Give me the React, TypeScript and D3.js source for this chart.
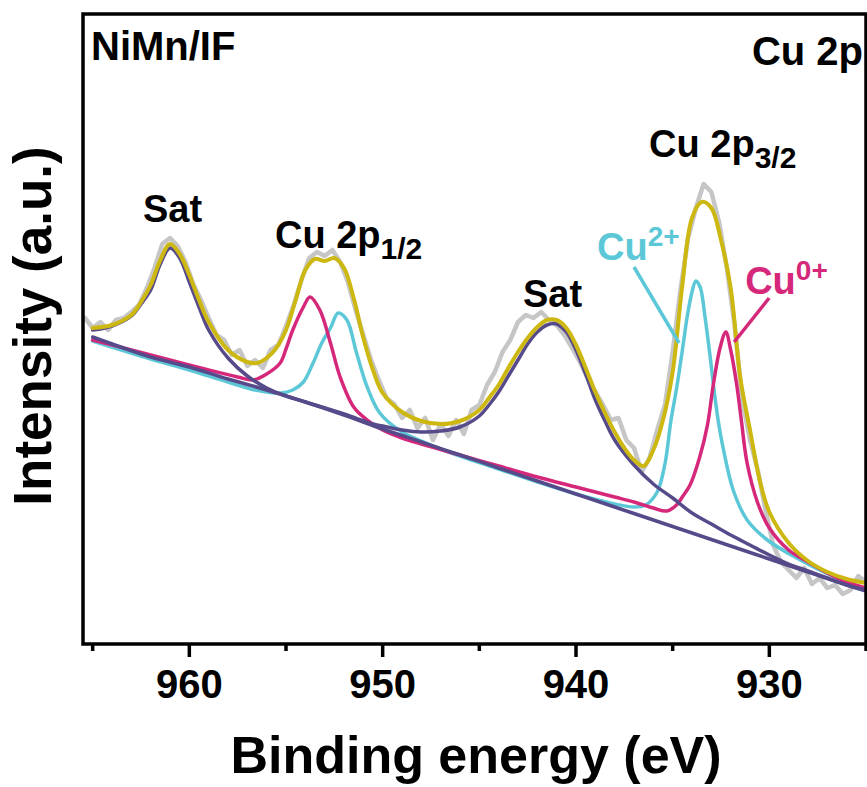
import React from 'react';
import * as d3 from 'd3';

const width = 867;
const height = 787;
const margin = { top: 14, right: 1, bottom: 143, left: 83 };
const font = "'Liberation Sans', Arial, Helvetica, sans-serif";

// binding energy (eV) vs intensity (a.u.)
const rawData: [number, number][] = [
  [965.4, 326], [965.0, 316], [964.6, 322], [964.2, 314], [963.8, 324], [963.4, 326], [963.0, 332],
  [962.6, 339], [962.2, 356], [961.8, 376], [961.4, 400], [961.0, 406], [960.6, 398], [960.2, 382],
  [959.8, 360], [959.4, 344], [959.0, 326], [958.6, 309], [958.2, 304], [957.8, 289], [957.4, 294],
  [957.0, 278], [956.6, 284], [956.2, 276], [955.8, 294], [955.4, 299], [955.0, 318], [954.6, 339],
  [954.2, 364], [953.8, 386], [953.4, 392], [953.0, 388], [952.6, 394], [952.2, 382], [951.8, 362],
  [951.4, 334], [951.0, 309], [950.6, 284], [950.2, 264], [949.8, 246], [949.4, 240], [949.0, 226],
  [948.6, 234], [948.2, 216], [947.8, 226], [947.4, 204], [947.0, 220], [946.6, 208], [946.2, 224],
  [945.8, 210], [945.4, 234], [945.0, 239], [944.6, 259], [944.2, 272], [943.8, 292], [943.4, 304],
  [943.0, 322], [942.6, 329], [942.2, 326], [941.8, 332], [941.4, 324], [941.0, 319], [940.6, 309],
  [940.2, 296], [939.8, 282], [939.4, 266], [939.0, 252], [938.6, 239], [938.2, 224], [937.8, 226],
  [937.4, 204], [937.0, 196], [936.6, 172], [936.2, 186], [935.8, 214], [935.4, 239], [935.0, 292],
  [934.6, 354], [934.2, 406], [933.8, 436], [933.4, 460], [933.0, 452], [932.6, 422], [932.2, 376],
  [931.8, 319], [931.4, 244], [931.0, 204], [930.6, 174], [930.2, 134], [929.8, 99], [929.4, 82],
  [929.0, 74], [928.6, 66], [928.2, 76], [927.8, 60], [927.4, 66], [927.0, 56], [926.6, 59],
  [926.2, 50], [925.8, 54], [925.4, 68], [925.0, 62],
];

const envelope: [number, number][] = [
  [965, 316], [964, 319], [963, 329], [962.5, 342], [962, 359], [961.5, 384], [961, 400], [960.5, 390],
  [960, 369], [959.5, 344], [959, 322], [958, 294], [957, 282], [956.5, 281], [956, 286], [955.5, 296],
  [955, 314], [954.5, 344], [954, 374], [953.5, 385], [953, 383], [952.5, 386], [952, 376], [951.5, 346],
  [951, 306], [950.5, 274], [950, 251], [949, 232], [948, 223], [947, 220], [946, 223], [945, 234],
  [944.5, 246], [944, 259], [943.5, 276], [943, 292], [942.5, 306], [942, 317], [941.5, 324], [941, 324],
  [940.5, 316], [940, 299], [939.5, 276], [939, 252], [938.5, 231], [938, 212], [937.5, 196], [937, 184],
  [936.5, 178], [936, 194], [935.5, 224], [935, 272], [934.5, 359], [934, 426], [933.5, 442], [933, 436],
  [932.5, 404], [932, 356], [931.5, 266], [931, 214], [930.5, 164], [930, 132], [929, 101], [928, 83],
  [927, 72], [926, 65], [925, 61],
];

const sat1: [number, number][] = [
  [965, 314], [964, 318], [963, 328], [962.5, 340], [962, 354], [961.5, 380], [961, 396], [960.5, 386],
  [960, 362], [959.5, 337], [959, 314], [958, 286], [957, 268], [956, 256], [955, 248], [954, 242],
  [952, 229], [950, 215], [948, 202], [946, 189], [944, 176], [942, 163], [940, 150], [938, 137],
  [936, 124], [934, 111], [932, 98], [930, 85], [928, 72], [926, 59], [925, 53],
];

const sat2: [number, number][] = [
  [965, 307], [962, 287], [960, 277], [958, 265], [956, 254], [954, 242], [952, 230], [950.5, 220],
  [950, 218], [949, 214], [948, 212], [947, 213], [946, 217], [945, 228], [944.5, 239], [944, 252],
  [943.5, 268], [943, 284], [942.5, 300], [942, 312], [941.5, 319], [941, 320], [940.5, 312], [940, 294],
  [939.5, 270], [939, 244], [938.5, 223], [938, 204], [937, 179], [936, 160], [935, 146], [934, 131],
  [933, 120], [932, 109], [931, 99], [930, 89], [929, 80], [928, 73], [927, 66], [926, 59], [925, 54],
];

const cu0: [number, number][] = [
  [965, 304], [963, 294], [961, 284], [959, 274], [957.5, 267], [956.7, 264], [956.0, 270], [955.3, 281],
  [955.0, 295], [954.65, 314], [954.1, 337], [953.76, 347], [953.25, 334], [952.7, 301], [952.2, 267],
  [951.5, 237], [950.8, 224], [950, 214], [949, 206], [948, 200], [946, 189], [944, 178], [942, 167],
  [940, 157], [938, 147], [937, 142], [936, 136], [935.3, 133], [934.8, 139], [934.5, 147], [934.1, 159],
  [933.6, 187], [933.2, 219], [932.9, 259], [932.55, 296], [932.25, 312], [932.0, 294], [931.7, 261],
  [931.45, 224], [931.15, 181], [930.6, 141], [930.0, 116], [929, 94], [928, 82], [927, 71], [926, 62],
  [925, 56],
];

const cu2: [number, number][] = [
  [965, 303], [962, 285], [960, 274], [958, 262], [956.6, 254], [955.3, 251], [954.65, 254], [954.1, 262],
  [953.6, 281], [953.15, 301], [952.7, 316], [952.3, 331], [951.85, 324], [951.35, 291], [950.8, 257],
  [950.15, 231], [949, 212], [948, 203], [947, 195], [946, 188], [944, 175], [942, 162], [940, 150],
  [938, 140], [937, 137], [936.4, 139], [935.8, 152], [935.4, 180], [935.1, 222], [934.77, 259],
  [934.46, 299], [934.26, 326], [934.0, 352], [933.8, 363], [933.58, 357], [933.32, 326], [933.06, 287],
  [932.86, 254], [932.65, 224], [932.4, 197], [931.87, 154], [931.15, 124], [930.1, 104], [928.4, 84],
  [926.86, 69], [925, 54],
];

const majorTicks = [960, 950, 940, 930];
const minorTicks = [965, 955, 945, 935, 925];

const colors = {
  raw: '#c6c6c6',
  envelope: '#cdb812',
  sat: '#574a8a',
  cu0: '#d6287b',
  cu2: '#5cc8d7',
};

export default function App() {
  const x = d3.scaleLinear().domain([965.5, 925]).range([margin.left, width - margin.right]);
  const y = d3.scaleLinear().domain([0, 630]).range([height - margin.bottom, margin.top]);
  const x0 = margin.left;
  const y0 = height - margin.bottom;

  const smooth = d3.line<[number, number]>()
    .x(d => x(d[0]))
    .y(d => y(d[1]))
    .curve(d3.curveCatmullRom.alpha(0.5));
  const jagged = d3.line<[number, number]>()
    .x(d => x(d[0]))
    .y(d => y(d[1]));

  const bold = { fontFamily: font, fontWeight: 700 } as const;

  return (
    <svg width={width} height={height} style={{ position: 'absolute', left: 0, top: 0, background: '#fff' }}>
      <defs>
        <clipPath id="plot">
          <rect x={x0} y={margin.top} width={width - margin.right - x0} height={y0 - margin.top} />
        </clipPath>
      </defs>

      <g clipPath="url(#plot)" fill="none" strokeLinejoin="round" strokeLinecap="round">
        <path d={jagged(rawData) || ''} stroke={colors.raw} strokeWidth={4.5} />
        <path d={smooth(cu2) || ''} stroke={colors.cu2} strokeWidth={3.5} />
        <path d={smooth(cu0) || ''} stroke={colors.cu0} strokeWidth={3.5} />
        <path d={smooth(sat1) || ''} stroke={colors.sat} strokeWidth={3.5} />
        <path d={smooth(sat2) || ''} stroke={colors.sat} strokeWidth={3.5} />
        <path d={smooth(envelope) || ''} stroke={colors.envelope} strokeWidth={4} />
      </g>

      {/* leader lines */}
      <line x1={x(937.0)} y1={y(377)} x2={x(934.67)} y2={y(301)} stroke={colors.cu2} strokeWidth={3.5} />
      <line x1={x(930.01)} y1={y(346)} x2={x(931.82)} y2={y(302)} stroke={colors.cu0} strokeWidth={3.5} />

      {/* frame */}
      <rect x={x0} y={margin.top} width={width - margin.right - x0} height={y0 - margin.top}
        fill="none" stroke="#000" strokeWidth={3.5} />

      {majorTicks.map(t => (
        <g key={t}>
          <line x1={x(t)} x2={x(t)} y1={y0} y2={y0 + 13} stroke="#000" strokeWidth={3.5} />
          <text x={x(t)} y={698} textAnchor="middle" fontSize={40} {...bold}>{t}</text>
        </g>
      ))}
      {minorTicks.map(t => (
        <line key={t} x1={x(t)} x2={x(t)} y1={y0} y2={y0 + 7} stroke="#000" strokeWidth={3.5} />
      ))}

      <text x={476} y={773} textAnchor="middle" fontSize={52} {...bold}>Binding energy (eV)</text>
      <text transform="translate(51,326) rotate(-90)" textAnchor="middle" fontSize={53} {...bold}>Intensity (a.u.)</text>

      <text x={91} y={60} fontSize={40} {...bold}>NiMn/IF</text>
      <text x={863} y={65} fontSize={40} textAnchor="end" {...bold}>Cu 2p</text>

      <text x={x(962.4)} y={y(422)} fontSize={38} {...bold}>Sat</text>
      <text x={x(942.74)} y={y(337)} fontSize={38} {...bold}>Sat</text>
      <text x={x(955.57)} y={y(396)} fontSize={38} {...bold}>
        Cu 2p<tspan fontSize={30} dy={11}>1/2</tspan>
      </text>
      <text x={x(936.22)} y={y(487)} fontSize={38} {...bold}>
        Cu 2p<tspan fontSize={30} dy={11}>3/2</tspan>
      </text>
      <text x={x(938.91)} y={y(384)} fontSize={38} fill={colors.cu2} {...bold}>
        Cu<tspan fontSize={28} dy={-14}>2+</tspan>
      </text>
      <text x={x(931.25)} y={y(350)} fontSize={38} fill={colors.cu0} {...bold}>
        Cu<tspan fontSize={28} dy={-14}>0+</tspan>
      </text>
    </svg>
  );
}
